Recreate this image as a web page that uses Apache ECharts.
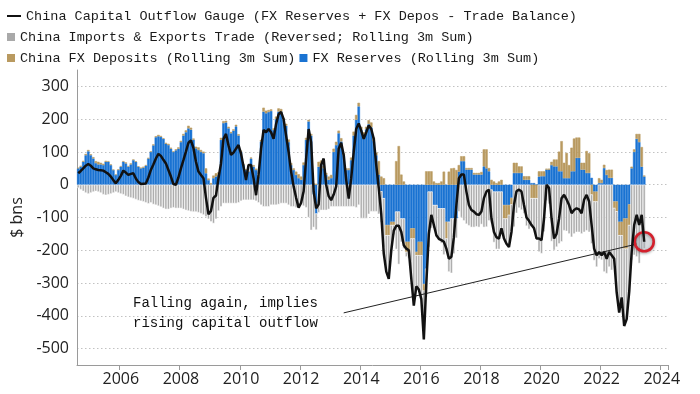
<!DOCTYPE html>
<html><head><meta charset="utf-8">
<script src="https://cdn.jsdelivr.net/npm/echarts@6/dist/echarts.min.js"></script>
<style>html,body{margin:0;padding:0;background:#fff}#c{width:700px;height:394px}</style>
</head><body><div id="c"></div>
<script>
// Monthly data, first month Aug 2004, last month Jun 2023 (rolling 3m sums, $ bns)
const firstYear = 2004, firstMonth = 8;
const axisEnd = '2024-03';   // axis runs a little past the last data month

const fxReserves = [
  50, 55, 70, 90, 102,                                   // 2004 Aug-Dec
  90, 80, 66, 62, 62, 60, 70, 70, 60, 45, 30, 45,        // 2005
  55, 70, 65, 55, 62, 75, 70, 55, 50, 52, 58, 80,        // 2006
  100, 120, 145, 148, 146, 140, 125, 121, 110, 100, 105, 110, // 2007
  130, 150, 160, 172, 168, 137, 111, 106, 100, 96, 35, 14,    // 2008
  0, 20, 25, 30, 137, 188, 190, 172, 157, 165, 178, 150,      // 2009
  101, 60, 45, 40, 80, 55, 45, 25, 132, 223, 218, 222,        // 2010
  225, 167, 200, 223, 223, 198, 180, 130, 60, 45, 30, 20,     // 2011
  15, 60, 137, 193, 150, -30, -88, 55, 62, 50, 30, 15,        // 2012
  20, 100, 121, 157, 132, 90, 45, 45, 75, 150, 198, 239,      // 2013
  167, 152, 169, 185, 175, 133, 90, 31, -20, -41, -123, -123, // 2014
  -113, -113, -82, -82, -103, -103, -174, -174, -133, -133, -205, -174, // 2015
  -174, -303, -256, -21, -21, -62, -62, -72, -72, -72, -113, -113,      // 2016
  -103, -103, -103, 40, 72, 72, 46, 46, 46, 31, 31, 31,       // 2017
  31, 56, 50, 41, -15, -21, -21, -21, -21, -62, -62, -62,     // 2018
  -40, 36, 36, 36, 36, 15, 15, 15, 5, 5, 0, 25,               // 2019
  26, 26, 46, 46, 60, 56, 56, 41, 41, 20, 20, 20,             // 2020
  41, 41, 82, 82, 46, 46, 36, 36, 21, -21, -21, 5,            // 2021
  5, 51, 30, 21, 21, -51, -51, -113, -113, -103, -103, -60,   // 2022
  50, 100, 140, 130, 55, 25                                   // 2023 Jan-Jun
];

const fxDeposits = [
  2, 3, 3, 4, 4,
  3, 4, 6, 8, 5, 4, 3, 2, 2, 1, 1, 2,
  2, 2, 3, 2, 3, 2, 1, 1, 2, 3, 2, 2,
  2, 3, 3, 4, 3, 2, 3, 4, 3, 2, 3, 4,
  4, 5, 6, 8, 6, 4, 5, 8, 6, 5, 15, 5,
  5, 8, 10, 8, 6, 6, 5, 5, 4, 4, 5, 4,
  3, 3, 2, 2, 3, 5, 4, 3, 5, 12, 8, 6,
  5, 5, 8, 10, 8, 6, 6, 8, 6, 5, 10, 12,
  10, 8, 6, 5, 5, 4, 3, 15, 12, 8, 6, 10,
  10, 10, 10, 8, 10, 6, 5, 5, 8, 12, 15, 11,
  10, 8, 8, 12, 15, 11, 8, 41, 25, 20, -31, -31,
  -10, -10, 72, 118, 31, 10, -31, -31, -31, -31, -10, -41,
  -41, -20, 41, 41, 41, 10, 5, 5, 10, 40, -51, 40,
  50, 51, 45, 20, 15, 15, 5, 5, 5, 5, 5, 5,
  8, 52, 58, 10, 15, 10, 5, 10, 15, -41, -41, -30,
  -20, 31, 31, 20, 20, 11, 11, 11, -41, -41, -41, 16,
  15, 15, 3, 3, 10, 21, 21, 60, 92, 47, 77, 40,
  72, 100, 62, 62, 21, 21, 67, 60, -30, -30, -30, 15,
  10, 10, 15, 25, 25, -20, -30, -41, -41, -92, -92, -63,
  5, 8, 15, 25, 60, 3
];

const tradeReversed = [
  -10, -15, -20, -25, -28,
  -25, -22, -20, -22, -25, -30, -32, -30, -28, -25, -22, -25,
  -28, -30, -35, -38, -40, -42, -45, -48, -50, -52, -55, -58,
  -55, -60, -62, -65, -68, -72, -75, -75, -72, -70, -72, -72,
  -72, -75, -78, -80, -82, -83, -83, -85, -88, -92, -98, -105,
  -113, -118, -105, -80, -67, -57, -57, -57, -57, -57, -57, -55,
  -50, -47, -47, -47, -47, -47, -50, -55, -62, -67, -67, -67,
  -62, -62, -62, -60, -57, -57, -57, -62, -67, -67, -70, -67,
  -62, -65, -70, -100, -139, -100, -50, -85, -78, -78, -78, -75,
  -67, -67, -67, -67, -67, -67, -67, -67, -67, -67, -70, -62,
  -103, -103, -103, -90, -82, -82, -82, -90, -95, -150, -111, -133,
  -77, -30, -115, -161, -72, -92, -15, -20, -123, -205, -95, -105,
  -134, -149, -85, -170, -112, -71, -97, -98, -107, -142, -31, -153,
  -167, -108, -60, -82, -100, -110, -120, -125, -130, -130, -128, -130,
  -121, -130, -129, -110, -103, -155, -176, -176, -127, -61, -77, -98,
  -84, -129, -87, -71, -77, -88, -126, -136, -87, -97, -123, -205,
  -210, -144, -49, -59, -173, -200, -190, -180, -174, -140, -142, -150,
  -160, -150, -145, -145, -150, -145, -140, -145, -150, -180, -200, -226,
  -230, -266, -271, -251, -261, -155, -247, -236, -190, -236, -215, -205,
  -230, -215, -220, -240, -200, -195
];

const outflowGauge = [
  35, 42, 50, 58, 63,
  58, 50, 47, 45, 44, 43, 38, 33, 25, 14, 4, 15,
  27, 43, 37, 30, 33, 35, 19, 8, 2, 3, 4, 22,
  45, 62, 80, 94, 88, 76, 65, 45, 25, 2, 0, 22,
  50, 75, 101, 128, 135, 112, 70, 40, 30, 20, -40, -90,
  -80, -40, -33, 20, 65, 140, 155, 120, 91, 98, 110, 121,
  95, 55, 14, 60, 60, 20, -32, 30, 110, 167, 160, 170,
  160, 140, 185, 215, 222, 200, 150, 100, 40, -5, -40, -70,
  -55, -20, 80, 170, 130, -20, -72, -60, 60, 80, 0, -35,
  -47, -30, -5, 110, 128, 90, 15, -42, 20, 100, 170, 187,
  165, 140, 160, 181, 170, 140, 60, -10, -90, -210, -265, -287,
  -200, -140, -125, -125, -144, -185, -195, -200, -287, -369, -310, -320,
  -349, -472, -300, -150, -92, -123, -154, -165, -169, -174, -195, -226,
  -220, -160, -62, 20, 31, 31, -21, -62, -77, -82, -90, -92,
  -82, -41, -21, -15, -103, -144, -160, -165, -133, -164, -180, -190,
  -144, -62, -20, -15, -21, -62, -100, -110, -123, -133, -164, -164,
  -169, -103, 0, -10, -103, -164, -150, -103, -41, -31, -45, -62,
  -87, -77, -72, -75, -87, -46, -31, -51, -123, -195, -215, -205,
  -215, -205, -226, -205, -215, -226, -328, -390, -344, -431, -410, -328,
  -205, -123, -92, -123, -92, -174
];

const yearTicks = [2006, 2008, 2010, 2012, 2014, 2016, 2018, 2020, 2022, 2024];
const valueTicks = [-500, -400, -300, -200, -100, 0, 100, 200, 300];

const names = {
  gauge: 'China Capital Outflow Gauge (FX Reserves + FX Depos - Trade Balance)',
  trade: 'China Imports & Exports Trade (Reversed; Rolling 3m Sum)',
  deposits: 'China FX Deposits (Rolling 3m Sum)',
  reserves: 'FX Reserves (Rolling 3m Sum)'
};
const noteText = 'Falling again, implies\nrising capital outflow';
const noteLineFrom = ['2013-06', -391];
const noteLineTo = ['2023-03', -181];

// month categories for the axis
const axisMonths = [];
for (let k = firstMonth - 1; ; k++) {
  const y = firstYear + Math.floor(k / 12), m = (k % 12) + 1;
  const s = y + '-' + String(m).padStart(2, '0');
  axisMonths.push(s);
  if (s === axisEnd) break;
}
const isYearTick = v => v.endsWith('-01') && yearTicks.includes(Number(v.slice(0, 4)));

const mono = 'Liberation Mono, DejaVu Sans Mono, monospace';
const sans = 'Open Sans, Noto Sans, sans-serif';
const legendText = { fontFamily: mono, fontSize: 13.5, color: '#1a1a1a' };
const last = outflowGauge.length - 1;
const BLUE = '#1a73d2', TAN = '#b99a60', GREY = '#a9a9a9';

const chart = echarts.init(document.getElementById('c'), null, { renderer: 'canvas' });
chart.setOption({
  animation: false,
  backgroundColor: '#fff',
  grid: { left: 77, right: 32, top: 70, bottom: 29, containLabel: false, outerBoundsMode: 'none' },
  legend: [
    { data: [names.gauge], left: 2, top: 4, icon: 'rect', itemWidth: 14, itemHeight: 2, textStyle: legendText, selectedMode: false },
    { data: [names.trade], left: 2, top: 25, icon: 'rect', itemWidth: 8, itemHeight: 8, textStyle: legendText, selectedMode: false, itemStyle: { borderWidth: 0 } },
    { data: [names.deposits, names.reserves], left: 2, top: 46, icon: 'rect', itemWidth: 8, itemHeight: 8, itemGap: 4, textStyle: legendText, selectedMode: false, itemStyle: { borderWidth: 0 } }
  ],
  xAxis: {
    type: 'category', data: axisMonths, boundaryGap: true,
    axisLine: { show: true, onZero: false, lineStyle: { color: '#9a9a9a', width: 1 } },
    axisTick: { show: true, interval: (i, v) => isYearTick(v), alignWithLabel: false, length: 5, lineStyle: { color: '#9a9a9a' } },
    axisLabel: { interval: (i, v) => isYearTick(v), formatter: v => v.slice(0, 4), color: '#222', fontFamily: sans, fontSize: 16, margin: 6 },
    splitLine: { show: false }
  },
  yAxis: {
    type: 'value', min: -550, max: 350, interval: 50,
    axisLine: { show: true, onZero: false, lineStyle: { color: '#9a9a9a', width: 1 } },
    axisTick: { show: false },
    axisLabel: { formatter: v => valueTicks.includes(v) ? String(v) : '', color: '#222', fontFamily: sans, fontSize: 16, margin: 8 },
    splitLine: { show: true, lineStyle: { color: ['rgba(0,0,0,0)', '#c2c2c2'], type: [1.5, 2.5], width: 1 } },
    name: '$ bns', nameLocation: 'middle', nameGap: 52,
    nameTextStyle: { fontFamily: sans, fontSize: 16, color: '#222' }
  },
  series: [
    { name: names.reserves, type: 'bar', stack: 'g', barCategoryGap: '0%', data: fxReserves,
      itemStyle: { color: BLUE, borderColor: BLUE, borderWidth: 0.5 }, z: 2 },
    { name: names.deposits, type: 'bar', stack: 'g', barCategoryGap: '0%', data: fxDeposits,
      itemStyle: { color: TAN, borderColor: TAN, borderWidth: 0.5 }, z: 2 },
    { name: names.trade, type: 'bar', stack: 'g', barCategoryGap: '0%', data: tradeReversed,
      itemStyle: { color: GREY, borderColor: '#ffffff', borderWidth: 0.5 }, z: 2 },
    { name: names.gauge, type: 'line', data: outflowGauge, showSymbol: false, symbol: 'none',
      lineStyle: { color: '#111', width: 2.5 }, itemStyle: { color: '#111' }, z: 5,
      markLine: { silent: true, symbol: ['none', 'none'], label: { show: false },
        lineStyle: { color: '#222', width: 1, type: 'solid' },
        data: [[{ coord: noteLineFrom }, { coord: noteLineTo }]] },
      markPoint: { silent: true, symbol: 'circle', symbolSize: 19, label: { show: false },
        itemStyle: { color: 'rgba(200,210,220,0.35)', borderColor: '#d3202c', borderWidth: 2.6,
          shadowBlur: 3, shadowColor: 'rgba(0,0,0,0.35)', shadowOffsetY: 1 },
        data: [{ coord: [axisMonths[last], outflowGauge[last]] }] }
    }
  ],
  graphic: [
    { type: 'text', left: 133, top: 293, z: 10,
      style: { text: noteText, font: '14px ' + mono, lineHeight: 20, fill: '#111' } }
  ]
});
</script></body></html>
